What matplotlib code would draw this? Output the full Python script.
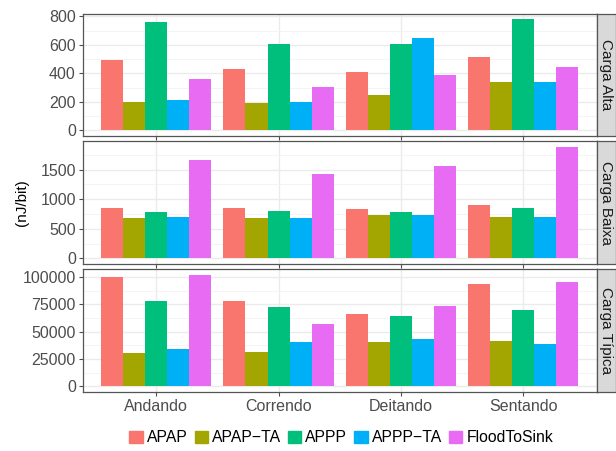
import matplotlib.pyplot as plt
import matplotlib.patches as mpatches
import numpy as np

plt.rcParams['font.family'] = ['Liberation Sans', 'DejaVu Sans']

# data
posicoes = ['Andando', 'Correndo', 'Deitando', 'Sentando']
protocolos = ['APAP', 'APAP\u2212TA', 'APPP', 'APPP\u2212TA', 'FloodToSink']
cores = ['#F8766D', '#A3A500', '#00BF7D', '#00B0F6', '#E76BF3']
cargas = ['Carga Alta', 'Carga Baixa', 'Carga Típica']

alta_apap = [497, 434, 407, 517]
alta_apap_ta = [200, 193, 248, 338]
alta_appp = [759, 607, 607, 779]
alta_appp_ta = [214, 200, 648, 338]
alta_flood = [359, 303, 386, 448]

baixa_apap = [850, 850, 833, 900]
baixa_apap_ta = [683, 683, 733, 700]
baixa_appp = [783, 800, 783, 850]
baixa_appp_ta = [700, 683, 733, 700]
baixa_flood = [1667, 1433, 1567, 1883]

tipica_apap = [100600, 78000, 66300, 94200]
tipica_apap_ta = [30100, 31000, 40100, 41000]
tipica_appp = [78000, 72600, 64500, 69900]
tipica_appp_ta = [33700, 40100, 43700, 38300]
tipica_flood = [102400, 57200, 73500, 96000]

paineis = [
    [alta_apap, alta_apap_ta, alta_appp, alta_appp_ta, alta_flood],
    [baixa_apap, baixa_apap_ta, baixa_appp, baixa_appp_ta, baixa_flood],
    [tipica_apap, tipica_apap_ta, tipica_appp, tipica_appp_ta, tipica_flood],
]
ticks = [
    [0, 200, 400, 600, 800],
    [0, 500, 1000, 1500],
    [0, 25000, 50000, 75000, 100000],
]

fig = plt.figure(figsize=(6.16, 4.51), dpi=100)
fig.patch.set_facecolor('white')

esq, dir_ = 0.1343, 0.9687
caixas = [(0.6984, 0.9696), (0.4146, 0.6867), (0.1315, 0.4035)]
x = np.arange(len(posicoes))
larg = 0.9 / len(protocolos)

for i, (series, (y0, y1)) in enumerate(zip(paineis, caixas)):
    ax = fig.add_axes([esq, y0, dir_ - esq, y1 - y0])
    ymax = max(max(s) for s in series)
    ax.set_ylim(-0.05 * ymax, 1.05 * ymax)
    ax.set_xlim(-0.6, len(posicoes) - 0.4)
    for j, s in enumerate(series):
        ax.bar(x - 0.45 + larg * (j + 0.5), s, width=larg, color=cores[j], zorder=3)

    ax.set_yticks(ticks[i])
    ax.set_yticklabels([str(t) for t in ticks[i]])
    menores = [(a + b) / 2 for a, b in zip(ticks[i][:-1], ticks[i][1:])]
    menores.append(ticks[i][-1] + (ticks[i][1] - ticks[i][0]) / 2)
    ax.set_yticks([m for m in menores if m < 1.05 * ymax], minor=True)
    ax.set_xticks(x)
    if i == 2:
        ax.set_xticklabels(posicoes)
    else:
        ax.set_xticklabels([])
        ax.tick_params(axis='x', length=0)

    ax.grid(True, which='major', color='#EBEBEB', lw=1.0, zorder=0)
    ax.grid(True, which='minor', axis='y', color='#F2F2F2', lw=0.6, zorder=0)
    ax.tick_params(axis='both', which='major', labelsize=11.5, colors='#4D4D4D',
                   length=3, width=0.8, pad=2)
    ax.tick_params(axis='y', which='minor', length=0)
    for sp in ax.spines.values():
        sp.set_color('#555555')
        sp.set_linewidth(0.9)

    # faixa lateral
    sax = fig.add_axes([dir_, y0, 1.0 - dir_, y1 - y0])
    sax.set_facecolor('#D9D9D9')
    sax.set_xticks([])
    sax.set_yticks([])
    for sp in sax.spines.values():
        sp.set_color('#555555')
        sp.set_linewidth(0.9)
    sax.text(0.5, 0.5, cargas[i], rotation=-90, ha='center', va='center',
             fontsize=11, color='#1A1A1A', transform=sax.transAxes)

fig.text(0.035, 0.55, '(nJ/bit)', rotation=90, ha='center', va='center',
         fontsize=11, color='black')

handles = [mpatches.Patch(color=c, label=p) for c, p in zip(cores, protocolos)]
fig.legend(handles=handles, loc='center', bbox_to_anchor=(0.554, 0.029), ncol=5,
           frameon=False, fontsize=11.3, handlelength=0.85, handleheight=0.85,
           handletextpad=0.25, columnspacing=0.45)

plt.savefig('out.png', dpi=100, facecolor='white')
plt.close()
